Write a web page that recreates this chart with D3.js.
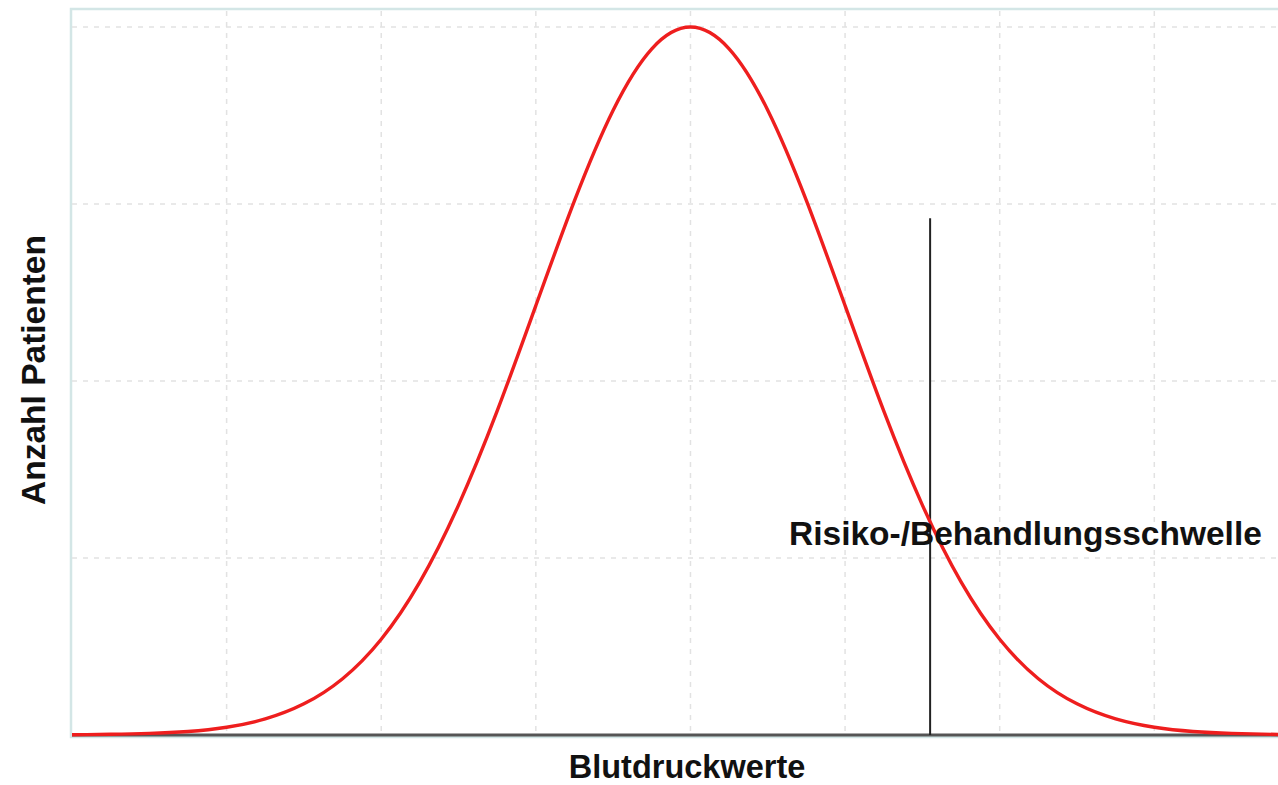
<!DOCTYPE html>
<html>
<head>
<meta charset="utf-8">
<script src="https://cdn.jsdelivr.net/npm/d3@7"></script>
<style>
  body { margin: 0; background: #fff; }
  text { font-family: "Liberation Sans", Arial, sans-serif; fill: #111; font-weight: bold; }
</style>
</head>
<body>
<svg id="chart" width="1278" height="785"></svg>
<script>
// values (x in grid steps from the peak, y in grid rows)
var curveX = [-4, -3.75, -3.5, -3.25, -3, -2.75, -2.5, -2.25, -2, -1.75, -1.5, -1.25, -1, -0.75, -0.5, -0.25, 0,
              0.25, 0.5, 0.75, 1, 1.25, 1.5, 1.75, 2, 2.25, 2.5, 2.75, 3, 3.25, 3.5, 3.8];
var curveY = [0.001, 0.004, 0.009, 0.02, 0.044, 0.091, 0.176, 0.318, 0.541, 0.865, 1.299, 1.831, 2.426, 3.019, 3.53, 3.877, 4,
              3.877, 3.53, 3.019, 2.426, 1.831, 1.299, 0.865, 0.541, 0.318, 0.176, 0.091, 0.044, 0.02, 0.009, 0.003];
var xGrid = [-3, -2, -1, 0, 1, 2, 3];
var yGrid = [1, 2, 3, 4];
var threshold = { x: 1.55, top: 2.92, label: "Risiko-/Behandlungsschwelle" };
var xTitle = "Blutdruckwerte";
var yTitle = "Anzahl Patienten";

var svg = d3.select("#chart");
var margin = { top: 9, right: 0, bottom: 50, left: 72 };
var width = 1278, height = 785;

var x = d3.scaleLinear().domain([-4, 3.8]).range([margin.left, width - margin.right]);
var y = d3.scaleLinear().domain([0, 4]).range([735, 27]);

// frame
svg.append("rect")
    .attr("x", margin.left - 1).attr("y", margin.top)
    .attr("width", width - margin.left + 4).attr("height", 735 - margin.top + 2)
    .attr("fill", "none").attr("stroke", "#d3e6e6").attr("stroke-width", 2.5);

// grid
svg.append("g").selectAll("line").data(xGrid).enter().append("line")
    .attr("x1", d => x(d)).attr("x2", d => x(d))
    .attr("y1", margin.top + 2).attr("y2", 735)
    .attr("stroke", "#e2e2e2").attr("stroke-width", 1.5).attr("stroke-dasharray", "5,6");
svg.append("g").selectAll("line").data(yGrid).enter().append("line")
    .attr("x1", margin.left).attr("x2", width)
    .attr("y1", d => y(d)).attr("y2", d => y(d))
    .attr("stroke", "#e2e2e2").attr("stroke-width", 1.5).attr("stroke-dasharray", "5,6");

// x axis line
svg.append("line")
    .attr("x1", margin.left).attr("x2", width)
    .attr("y1", y(0)).attr("y2", y(0))
    .attr("stroke", "#555").attr("stroke-width", 3);

// threshold
svg.append("line")
    .attr("x1", x(threshold.x)).attr("x2", x(threshold.x))
    .attr("y1", y(threshold.top)).attr("y2", y(0))
    .attr("stroke", "#222").attr("stroke-width", 2);

// curve
var pts = curveX.map((d, i) => [d, curveY[i]]);
var line = d3.line().x(d => x(d[0])).y(d => y(d[1])).curve(d3.curveNatural);
svg.append("path")
    .datum(pts)
    .attr("d", line)
    .attr("fill", "none")
    .attr("stroke", "#ee1e1e")
    .attr("stroke-width", 3.4);

// labels
svg.append("text")
    .attr("x", 789).attr("y", 545)
    .style("font-size", "33.5px")
    .text(threshold.label);

svg.append("text")
    .attr("x", 687).attr("y", 778)
    .attr("text-anchor", "middle")
    .style("font-size", "32.5px")
    .text(xTitle);

svg.append("text")
    .attr("transform", "translate(45,370) rotate(-90)")
    .attr("text-anchor", "middle")
    .style("font-size", "33.5px")
    .text(yTitle);
</script>
</body>
</html>
